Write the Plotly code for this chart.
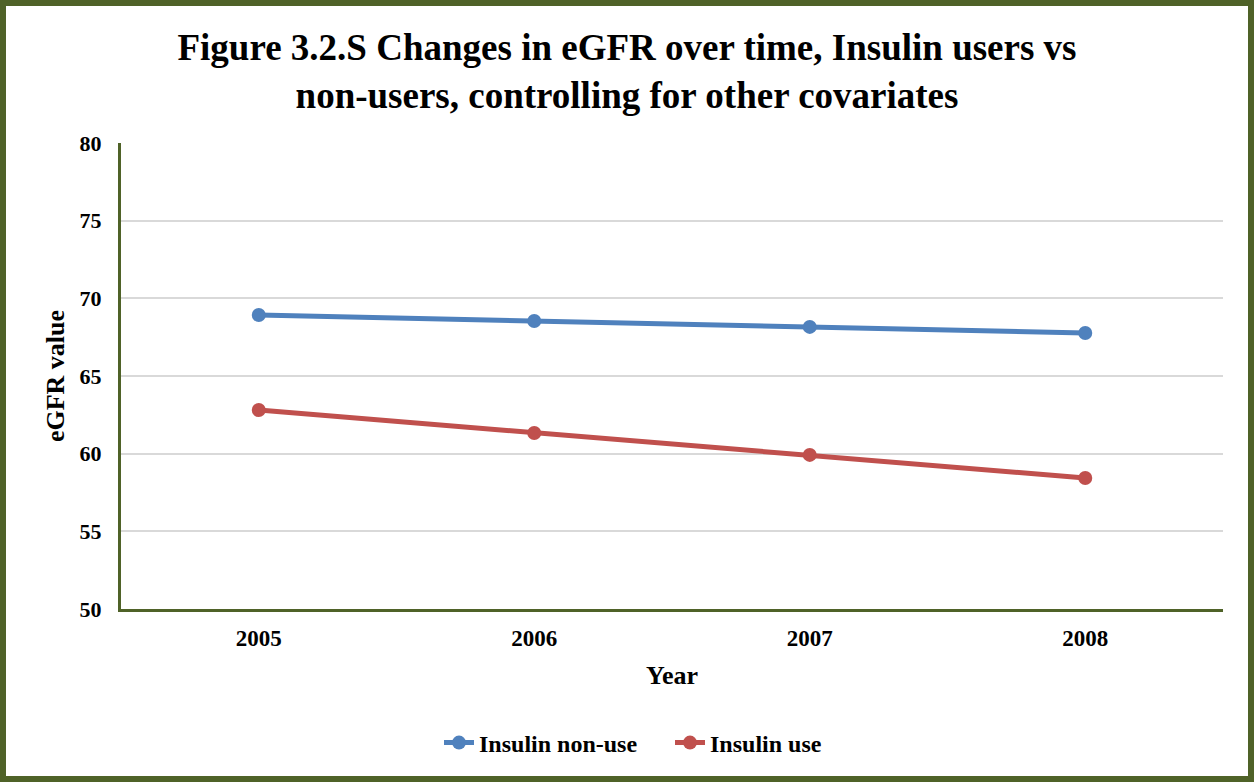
import plotly.graph_objects as go

years = ["2005", "2006", "2007", "2008"]
non_use = [68.93, 68.54, 68.16, 67.77]
use = [62.81, 61.33, 59.92, 58.43]

W, H = 1254, 782
L, R, T, B = 121, 31, 143, 173
pw, ph = W - L - R, H - T - B
font_fam = "Liberation Serif"
olive = "#4F6228"

fig = go.Figure()
fig.add_trace(go.Scatter(x=years, y=non_use, name="Insulin non-use", mode="lines+markers",
                         line=dict(color="#4F81BD", width=5), marker=dict(size=14, color="#4F81BD")))
fig.add_trace(go.Scatter(x=years, y=use, name="Insulin use", mode="lines+markers",
                         line=dict(color="#C0504D", width=5), marker=dict(size=14, color="#C0504D")))

def px_x(p):
    return (p - L) / pw

def px_y(p):
    return (H - B - p) / ph

fig.update_layout(
    width=W, height=H,
    margin=dict(l=L, r=R, t=T, b=B),
    paper_bgcolor="white", plot_bgcolor="white",
    font=dict(family=font_fam, color="black"),
    title=dict(text="<b>Figure 3.2.S Changes in eGFR over time, Insulin users vs<br>non-users, controlling for other covariates</b>",
               x=0.5, xanchor="center", y=1 - 60 / H, yanchor="middle",
               font=dict(size=37, family=font_fam, color="black")),
    xaxis=dict(type="category", range=[-0.5, 3.5], showgrid=False, showline=True,
               linecolor=olive, linewidth=3, ticks="", ticklabelstandoff=6,
               tickfont=dict(size=23, family=font_fam, color="black", weight="bold"),
               title=dict(text="<b>Year</b>", font=dict(size=26, family=font_fam, color="black"), standoff=17)),
    yaxis=dict(range=[50, 80], dtick=5, showgrid=True, gridcolor="#D9D9D9", gridwidth=2,
               showline=True, linecolor=olive, linewidth=3, ticks="", zeroline=False,
               ticklabelstandoff=12,
               tickfont=dict(size=22, family=font_fam, color="black", weight="bold"),
               title=dict(text="<b>eGFR value</b>", font=dict(size=26, family=font_fam, color="black"), standoff=8)),
    legend=dict(orientation="h", x=px_x(439), xanchor="left", y=px_y(743), yanchor="middle",
                font=dict(size=24, family=font_fam, color="black", weight="bold"),
                entrywidth=186, entrywidthmode="pixels", tracegroupgap=0),
    showlegend=True,
    shapes=[dict(type="rect", xref="paper", yref="paper",
                 x0=px_x(3), x1=px_x(W - 3), y0=px_y(H - 3), y1=px_y(3),
                 line=dict(color=olive, width=6), fillcolor="rgba(0,0,0,0)", layer="above")],
)

fig.write_html("out.html", config={"displayModeBar": False},
               post_script="document.body.style.margin='0px';document.body.style.overflow='hidden';")
